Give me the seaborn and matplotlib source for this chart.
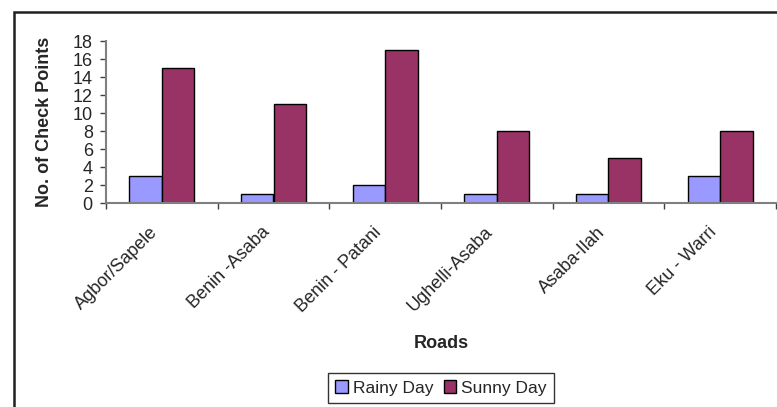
import matplotlib
matplotlib.use("Agg")
import matplotlib.pyplot as plt
from matplotlib.patches import Rectangle, Patch
from matplotlib.ticker import FixedLocator
import seaborn as sns
import pandas as pd

# Check points per road, by weather condition
roads = ["Agbor/Sapele", "Benin -Asaba", "Benin - Patani", "Ughelli-Asaba", "Asaba-Ilah", "Eku - Warri"]
rainy_day = [3, 1, 2, 1, 1, 3]
sunny_day = [15, 11, 17, 8, 5, 8]
series_names = ["Rainy Day", "Sunny Day"]
series_colors = ["#9999FF", "#993366"]
y_ticks = [0, 2, 4, 6, 8, 10, 12, 14, 16, 18]

df = pd.DataFrame({
    "Road": roads * 2,
    "Condition": [series_names[0]] * len(roads) + [series_names[1]] * len(roads),
    "Count": rainy_day + sunny_day,
})

sns.set_theme(style="white")
plt.rcParams["font.family"] = ["Liberation Sans", "DejaVu Sans"]

fig = plt.figure(figsize=(7.77, 4.07), dpi=100)
ax = fig.add_axes([106 / 777, 1 - 203 / 407, 670 / 777, 162 / 407])

sns.barplot(data=df, x="Road", y="Count", hue="Condition", order=roads,
            hue_order=series_names, palette=series_colors, width=0.58,
            edgecolor="black", linewidth=1.0, saturation=1, ax=ax, legend=False)

ax.set_xlim(-0.5, len(roads) - 0.5)
ax.set_ylim(0, 18)
ax.set_yticks(y_ticks)
ax.set_yticklabels([str(t) for t in y_ticks], fontsize=13)

# Category labels just left of each group center (rotated text ends there),
# tick marks drawn between categories
label_offset = -0.11
ax.set_xticks([i + label_offset for i in range(len(roads))])
ax.set_xticklabels(roads, rotation=45, ha="right", rotation_mode="anchor", fontsize=13)
ax.xaxis.set_minor_locator(FixedLocator([i - 0.5 for i in range(len(roads) + 1)]))
ax.tick_params(axis="x", which="major", length=0, pad=15)
ax.tick_params(axis="x", which="minor", length=4.5, width=1, color="#404040", direction="out", bottom=True)
ax.tick_params(axis="y", length=4.5, width=1, color="#404040", direction="out", left=True, pad=5)

for side in ["top", "right"]:
    ax.spines[side].set_visible(False)
for side in ["left", "bottom"]:
    ax.spines[side].set_color("#808080")
    ax.spines[side].set_linewidth(1.5)

ax.set_xlabel("Roads", fontsize=13, fontweight="bold", labelpad=14)
ax.set_ylabel("No. of Check Points", fontsize=13, fontweight="bold", labelpad=14)

handles = [Patch(facecolor=c, edgecolor="black", linewidth=1.0) for c in series_colors]
leg = fig.legend(handles, series_names, loc="center", bbox_to_anchor=(441 / 777, 1 - 388 / 407),
                 ncol=2, fontsize=12.5, frameon=True, fancybox=False, handlelength=0.7,
                 handleheight=0.7, handletextpad=0.3, columnspacing=0.6, borderpad=0.4)
leg.get_frame().set_edgecolor("black")
leg.get_frame().set_linewidth(1.0)

# Outer chart border
fig.add_artist(Rectangle((13.5 / 777, -0.1), 1.1, 1.1 - 11.5 / 407, transform=fig.transFigure,
                         fill=False, edgecolor="#202020", linewidth=1.8))

fig.savefig("out.png", dpi=100)
